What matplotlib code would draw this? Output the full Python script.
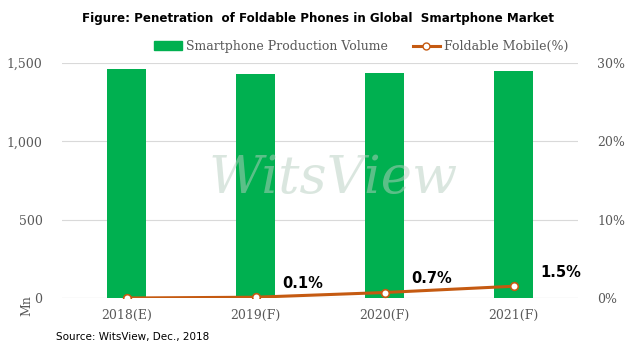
import matplotlib.pyplot as plt
from matplotlib.lines import Line2D
from matplotlib.patches import Patch
from matplotlib.ticker import FuncFormatter

years = ["2018(E)", "2019(F)", "2020(F)", "2021(F)"]
volume = [1460, 1428, 1436, 1452]
foldable = [0.0, 0.1, 0.7, 1.5]
labels = ["", "0.1%", "0.7%", "1.5%"]

green = "#00b050"
brown = "#c55a11"
grey = "#595959"
serif = "DejaVu Serif"

fig = plt.figure(figsize=(6.35, 3.53), dpi=100)
ax = fig.add_axes([62 / 635, 55 / 353, 516 / 635, 235 / 353])
ax2 = ax.twinx()

x = range(len(years))
ax.bar(x, volume, width=0.31, color=green, zorder=2)
ax.set_ylim(0, 1500)
ax.set_xlim(-0.5, 3.5)
ax.set_yticks([0, 500, 1000, 1500])
ax.yaxis.set_major_formatter(FuncFormatter(lambda v, p: f"{int(v):,}"))
ax.grid(axis="y", color="#d9d9d9", lw=0.8, zorder=0)
ax.set_xticks(list(x))
ax.set_xticklabels(years)

ax2.plot(x, foldable, color=brown, lw=2.2, marker="o", ms=5.5,
         mfc="white", mec=brown, mew=1.2, zorder=5)
ax2.set_ylim(0, 30)
ax2.set_yticks([0, 10, 20, 30])
ax2.yaxis.set_major_formatter(FuncFormatter(lambda v, p: f"{int(v)}%"))
for i, (v, t) in enumerate(zip(foldable, labels)):
    if t:
        ax2.annotate(t, (i, v), xytext=(34, 10), textcoords="offset points",
                     ha="center", va="center", fontsize=10.5,
                     fontweight="bold", color="black")

for a in (ax, ax2):
    for s in a.spines.values():
        s.set_visible(False)
    a.tick_params(length=0, colors=grey, labelsize=9)
    for lab in a.get_xticklabels() + a.get_yticklabels():
        lab.set_fontfamily(serif)
ax.tick_params(axis="x", pad=8)
ax.tick_params(axis="y", pad=14)
ax2.tick_params(axis="y", pad=14)
ax.axhline(0, color="#d9d9d9", lw=0.8, zorder=1)

fig.text(0.5, 0.948, "Figure: Penetration  of Foldable Phones in Global  Smartphone Market",
         ha="center", va="center", fontsize=8.6, fontweight="bold")

handles = [Patch(color=green),
           Line2D([], [], color=brown, lw=2.2, marker="o", ms=5,
                  mfc="white", mec=brown)]
fig.legend(handles, ["Smartphone Production Volume", "Foldable Mobile(%)"],
           loc="center", bbox_to_anchor=(0.569, 0.868), ncol=2, frameon=False,
           prop={"family": serif, "size": 9}, labelcolor=grey,
           handlelength=2.2, handletextpad=0.3, columnspacing=2.0)

fig.text(0.042, 0.135, "Mn", rotation=90, ha="center", va="center",
         fontsize=9, color=grey, family=serif)
fig.text(0.088, 0.045, "Source: WitsView, Dec., 2018", ha="left", va="center",
         fontsize=7.5, color="black")

fig.text(0.525, 0.495, "WitsView", ha="center", va="center", fontsize=38,
         family=serif, style="italic", color="#b7cfc0", alpha=0.5, zorder=10)

fig.savefig("out.png", dpi=100)
